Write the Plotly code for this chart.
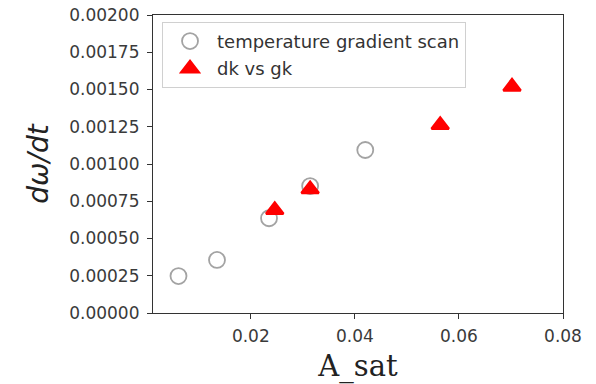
import plotly.graph_objects as go

# temperature gradient scan
scan_a_sat = [0.0061, 0.0135, 0.0235, 0.0314, 0.0420]
scan_dwdt = [0.000248, 0.000356, 0.000636, 0.000852, 0.001094]

# dk vs gk
dkgk_a_sat = [0.0246, 0.0314, 0.0564, 0.0702]
dkgk_dwdt = [0.000691, 0.000830, 0.001262, 0.001519]

x_ticks = [0.02, 0.04, 0.06, 0.08]
y_ticks = [i * 0.00025 for i in range(9)]

fig = go.Figure()
fig.add_trace(go.Scatter(
    x=scan_a_sat, y=scan_dwdt, mode="markers", name="temperature gradient scan",
    legendgroup="scan",
    marker=dict(symbol="circle-open", size=16, color="#a3a3a3", line=dict(width=1.8)),
))
fig.add_trace(go.Scatter(
    x=dkgk_a_sat, y=dkgk_dwdt, mode="markers", name="dk vs gk",
    legendgroup="dkgk",
    marker=dict(symbol="triangle-up", size=15, color="#ff0000",
                line=dict(width=2.5, color="#ff0000")),
))

axis_common = dict(
    showline=True, linecolor="#333", linewidth=1.2, mirror=True,
    ticks="outside", ticklen=5, tickwidth=1.2, tickcolor="#333",
    showgrid=False, zeroline=False, automargin=False,
    tickfont=dict(family="DejaVu Sans", size=17, color="#3a3a3a"),
)

fig.update_xaxes(
    range=[0.0012, 0.08], tickvals=x_ticks, ticktext=[f"{v:.2f}" for v in x_ticks],
    ticklabelstandoff=2,
    title=dict(text="A_sat", font=dict(family="DejaVu Serif", size=29, color="#222"), standoff=12),
    **axis_common,
)
fig.update_yaxes(
    range=[0, 0.002], tickvals=y_ticks, ticktext=[f"{v:.5f}" for v in y_ticks],
    ticklabelstandoff=4,
    title=dict(text="<i>dω/dt</i>", font=dict(family="DejaVu Sans", size=28, color="#222"), standoff=12),
    **axis_common,
)

fig.update_layout(
    width=596, height=384,
    margin=dict(l=153, r=33, t=15, b=71),
    paper_bgcolor="white", plot_bgcolor="white",
    showlegend=True,
    legend=dict(
        x=0.022, y=0.977, xanchor="left", yanchor="top",
        bgcolor="rgba(255,255,255,0.9)", bordercolor="#d0d0d0", borderwidth=1,
        font=dict(family="DejaVu Sans", size=18, color="#333"),
        itemwidth=44, tracegroupgap=1,
    ),
)

fig.write_html("out.html")
